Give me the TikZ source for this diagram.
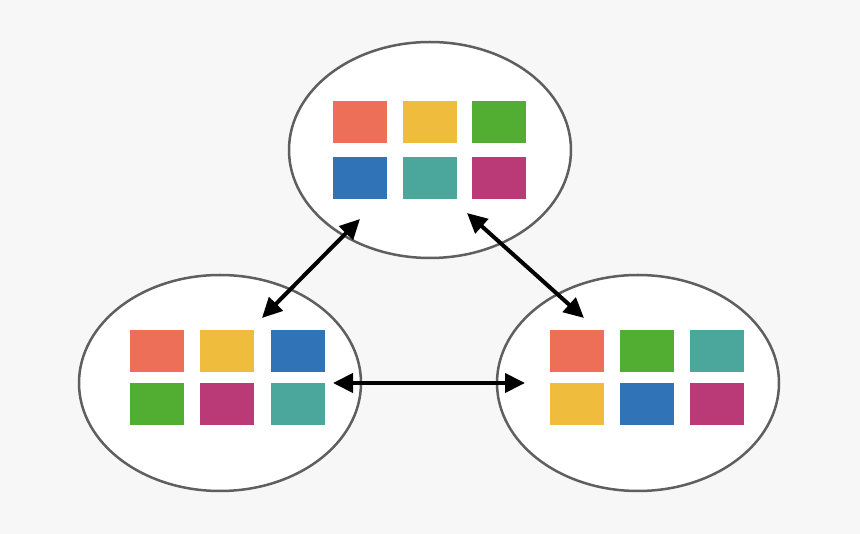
\documentclass[tikz,border=0pt]{standalone}
\usetikzlibrary{shapes.geometric,arrows.meta}
\definecolor{bg}{HTML}{F7F7F7}
\definecolor{cred}{HTML}{EE6F57}
\definecolor{cyel}{HTML}{F0BC3E}
\definecolor{cgrn}{HTML}{52AE32}
\definecolor{cblu}{HTML}{3173B7}
\definecolor{ctea}{HTML}{4BA79C}
\definecolor{cmag}{HTML}{B93A76}
\definecolor{edge}{HTML}{5F5F5F}
\begin{document}
\begin{tikzpicture}[x=1pt,y=-1pt,
  group/.style={ellipse,draw=edge,line width=2.5pt,fill=white,minimum width=282pt,minimum height=216pt,inner sep=0pt},
  sq/.style={rectangle,minimum width=54pt,minimum height=42pt,inner sep=0pt,fill=#1},
  link/.style={line width=4pt,{Triangle[length=20pt,width=19pt]}-{Triangle[length=20pt,width=19pt]}}]
\fill[bg] (0,0) rectangle (860,534);
\useasboundingbox (0,0) rectangle (860,534);
\node[group] (top) at (430,150) {};
\node[group] (left) at (220,383) {};
\node[group] (right) at (638,383) {};
% top squares
\node[sq=cred] (t1) at (360,122) {};
\node[sq=cyel] (t2) at (429.5,122) {};
\node[sq=cgrn] (t3) at (499,122) {};
\node[sq=cblu] (t4) at (360,178) {};
\node[sq=ctea] (t5) at (429.5,178) {};
\node[sq=cmag] (t6) at (499,178) {};
% left squares
\node[sq=cred] (l1) at (157,351) {};
\node[sq=cyel] (l2) at (227,351) {};
\node[sq=cblu] (l3) at (298,351) {};
\node[sq=cgrn] (l4) at (157,404) {};
\node[sq=cmag] (l5) at (227,404) {};
\node[sq=ctea] (l6) at (298,404) {};
% right squares
\node[sq=cred] (r1) at (577,351) {};
\node[sq=cgrn] (r2) at (647,351) {};
\node[sq=ctea] (r3) at (717,351) {};
\node[sq=cyel] (r4) at (577,404) {};
\node[sq=cblu] (r5) at (647,404) {};
\node[sq=cmag] (r6) at (717,404) {};
% arrow ends
\coordinate (a1) at (360,219);
\coordinate (a2) at (262,318);
\coordinate (b1) at (467,213);
\coordinate (b2) at (584,318);
\coordinate (c1) at (333,383);
\coordinate (c2) at (525,383);
\draw[link] (a1) -- (a2);
\draw[link] (b1) -- (b2);
\draw[link] (c1) -- (c2);
\end{tikzpicture}
\end{document}
